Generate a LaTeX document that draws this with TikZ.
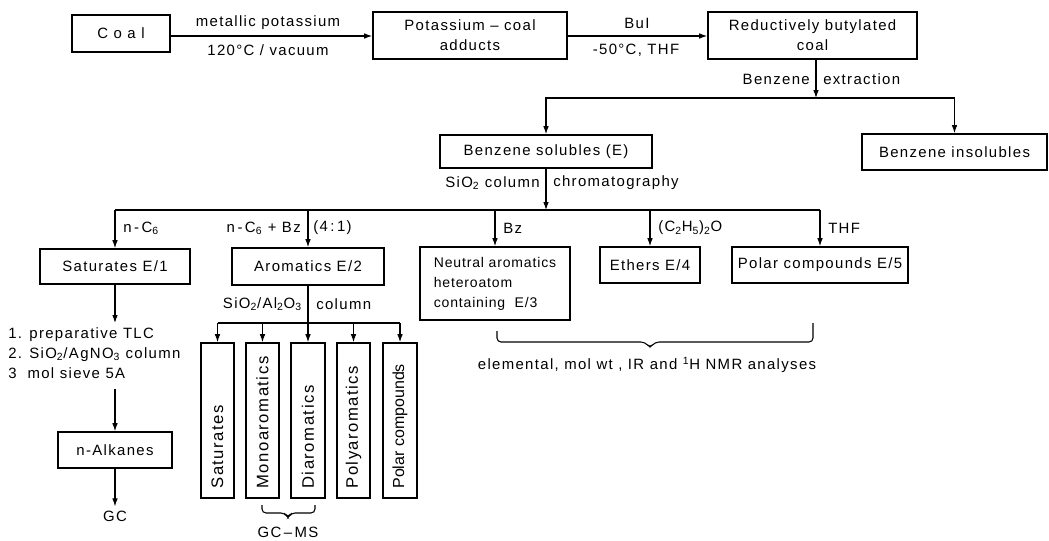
\documentclass[tikz,border=0pt]{standalone}
\usepackage{fontspec}
\setmainfont{Liberation Sans}[LetterSpace=9]
\usetikzlibrary{arrows.meta,fit}
\newcommand\myfs{\fontsize{11.2}{15}\selectfont}
\newcommand\myvfs{\fontsize{12.5}{15}\selectfont}
\newcommand\mysfs{\fontsize{10.5}{15}\selectfont\addfontfeatures{LetterSpace=6}}
\newcommand\mytfs{\fontsize{12}{15}\selectfont\addfontfeatures{LetterSpace=0}}
\begin{document}
\begin{tikzpicture}[x=0.75pt,y=-0.75pt,
  every node/.style={font=\myfs, inner sep=0pt},
  box/.style={draw, line width=1.25pt},
  tbox/.style={box, label={[align=center]center:{#1}}},
  con/.style={line width=0.8pt},
  arr/.style={con, -{Latex[length=6pt,width=4.2pt]}},
  vtext/.style={rotate=90, anchor=west, font=\myvfs},
  brace/.style={line width=0.8pt, rounded corners=3pt}
]
\useasboundingbox (0,0) rectangle (1049,540);

% top row
\node[tbox={C o a l}, fit={(72,15)(170,52)}] (coal) {};
\node[tbox={Potassium – coal\\adducts}, fit={(373,12)(567,59)}] (pot) {};
\node[tbox={Reductively butylated\\coal}, fit={(708,12)(917,59)}] (red) {};

\draw[arr] (coal.east |- 0,36) -- (pot.west |- 0,36);
\node (l1) at (268,23) {metallic potassium};
\node (l2) at (268,50) {120°C / vacuum};
\draw[arr] (pot.east |- 0,36) -- (red.west |- 0,36);
\node (l3) at (637,23) {BuI};
\node (l4) at (636,50) {-50°C, THF};

% benzene extraction
\node[tbox={Benzene solubles (E)}, fit={(440,135)(652,168)}] (sol) {};
\node[tbox={Benzene insolubles}, fit={(862,134)(1047,170)}] (ins) {};
\coordinate (b1) at (816,98);
\draw[arr] (red.south -| b1) -- (b1);
\draw[arr] (b1) -| (sol.north);
\draw[arr] (b1) -| (ins.north);
\node[anchor=east] (l5) at (810,79) {Benzene};
\node[anchor=west] (l6) at (823,79) {extraction};

% column chromatography
\node[tbox={Saturates E/1}, fit={(40,249)(190,284)}] (sat) {};
\node[tbox={Aromatics E/2}, fit={(232,248)(384,285)}] (aro) {};
\node[box, fit={(420,247)(570,320)}, label={[align=left, font=\mysfs]center:{Neutral aromatics\\heteroatom\\containing\ \ E/3}}] (neu) {};
\node[tbox={Ethers E/4}, fit={(600,247)(700,283)}] (eth) {};
\node[tbox={Polar compounds E/5}, fit={(732,247)(908,283)}] (pol) {};

\coordinate (b2) at (546,210);
\draw[arr] (sol.south) -- (b2);
\node[anchor=east] (l7) at (540,183) {SiO\textsubscript{2} column};
\node[anchor=west] (l8) at (553,183) {chromatography};
\draw[con] (sat.north |- b2) -- (pol.north |- b2);
\draw[arr] (sat.north |- b2) -- (sat.north);
\draw[arr] (aro.north |- b2) -- (aro.north);
\draw[arr] (neu.north |- b2) -- (neu.north);
\draw[arr] (eth.north |- b2) -- (eth.north);
\draw[arr] (pol.north |- b2) -- (pol.north);
\node[anchor=west] (l9) at (123,228) {n\,-\,C\textsubscript{6}};
\node[anchor=east] (l10) at (301,228) {n\,-\,C\textsubscript{6} + Bz};
\node[anchor=west] (l11) at (313,228) {(4\,:\,1)};
\node[anchor=west] (l12) at (503,228) {Bz};
\node[anchor=west] (l13) at (658,228) {(C\textsubscript{2}H\textsubscript{5})\textsubscript{2}O};
\node[anchor=west] (l14) at (828,228) {THF};

% saturates chain
\node[anchor=north west, align=left] (steps) at (8,327)
  {1. preparative TLC\\2. SiO\textsubscript{2}/AgNO\textsubscript{3} column\\3\ \ mol sieve 5A};
\node[tbox={n-Alkanes}, fit={(58,432)(172,468)}] (alk) {};
\node (gc) at (115,516) {GC};
\draw[arr, shorten >=3pt] (sat.south) -- (sat.south |- steps.north);
\draw[arr] ([yshift=-8pt]alk.north |- steps.south) -- (alk.north);
\draw[arr, shorten >=3pt] (alk.south) -- (gc.north);

% aromatics column
\node[box, fit={(201,343)(234,498)}] (v1) {};
\node[box, fit={(246,343)(279,498)}] (v2) {};
\node[box, fit={(291,343)(325,498)}] (v3) {};
\node[box, fit={(337,343)(370,498)}] (v4) {};
\node[box, fit={(383,343)(417,498)}] (v5) {};
\node[vtext] (t1) at ([yshift=7.5pt]v1.south) {Saturates};
\node[vtext] (t2) at ([yshift=7.5pt]v2.south) {Monoaromatics};
\node[vtext] (t3) at ([yshift=7.5pt]v3.south) {Diaromatics};
\node[vtext] (t4) at ([yshift=7.5pt]v4.south) {Polyaromatics};
\node[vtext, font=\mytfs] (t5) at ([yshift=7.5pt]v5.south) {Polar compounds};
\coordinate (b3) at (308,323);
\draw[arr] (aro.south) -- (v3.north);
\draw[con] (v1.north |- b3) -- (v5.north |- b3);
\draw[arr] (v1.north |- b3) -- (v1.north);
\draw[arr] (v2.north |- b3) -- (v2.north);
\draw[arr] (v4.north |- b3) -- (v4.north);
\draw[arr] (v5.north |- b3) -- (v5.north);
\node[anchor=east] (l15) at (302,304) {SiO\textsubscript{2}/Al\textsubscript{2}O\textsubscript{3}};
\node[anchor=west] (l16) at (316,304) {column};

% GC-MS brace
\draw[brace] (262,505) -- (262,513) -- (285,513) -- (288,518) -- (291,513) -- (315,513) -- (315,505);
\node (gcms) at (288,532) {GC\,–\,MS};

% analyses brace
\draw[brace] (497,331) -- (497,342) -- (645,342) -- (650,348) -- (655,342) -- (813,342) -- (813,323);
\node (ana) at (647,365) {elemental, mol wt , IR and \textsuperscript{1}H NMR analyses};
\end{tikzpicture}
\end{document}
